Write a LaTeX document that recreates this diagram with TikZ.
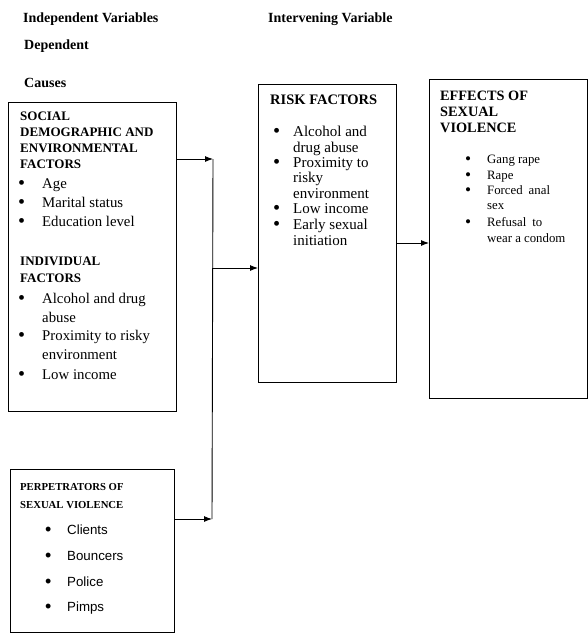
\documentclass[tikz,border=0pt]{standalone}
\usepackage{fontspec}
\setmainfont{Liberation Serif}
\newfontfamily\perpsans{Liberation Sans}
\usetikzlibrary{arrows.meta}
\newcommand\bigbul{\smash{\raisebox{-0.13em}{\scalebox{1.35}{\textbullet}}}}
\begin{document}
\begin{tikzpicture}[x=1pt,y=-1pt,
  box/.style={draw, line width=1pt, anchor=north west, inner sep=0pt},
  txt/.style={anchor=base west, inner sep=0pt},
  ttl/.style={txt, font=\fontsize{14}{16}\selectfont\bfseries},
  hsoc/.style={txt, font=\fontsize{13}{15}\selectfont\bfseries},
  isoc/.style={txt, font=\fontsize{14.8}{17}\selectfont},
  hrisk/.style={txt, font=\fontsize{14.5}{16}\selectfont\bfseries},
  irisk/.style={txt, font=\fontsize{15}{17}\selectfont},
  heff/.style={txt, font=\fontsize{14.3}{16}\selectfont\bfseries},
  ieff/.style={txt, font=\fontsize{12.8}{15}\selectfont},
  hperp/.style={txt, font=\fontsize{10.7}{12}\selectfont\bfseries},
  iperp/.style={txt, font=\fontsize{13.3}{15}\selectfont\perpsans},
  conn/.style={line width=0.9pt},
  arr/.style={conn, -{Latex[length=8pt,width=6pt]}}
]
\useasboundingbox (0,0) rectangle (587,634);

% titles
\node[ttl] (tind) at (23,23) {Independent Variables};
\node[ttl] (tint) at (268,23) {Intervening Variable};
\node[ttl] (tdep) at (24,50) {Dependent};
\node[ttl] (tcau) at (24,88) {Causes};

% boxes
\node[box, minimum width=168pt, minimum height=309pt] (soc) at (8,102) {};
\node[box, minimum width=138pt, minimum height=298pt] (risk) at (258,84) {};
\node[box, minimum width=157.5pt, minimum height=319pt] (eff) at (429,79) {};
\node[box, minimum width=164pt, minimum height=163pt] (perp) at (10,469) {};

% social box text
\node[hsoc] (s1) at (20,120) {SOCIAL};
\node[hsoc] (s2) at (20,136) {DEMOGRAPHIC AND};
\node[hsoc] (s3) at (20,152) {ENVIRONMENTAL};
\node[hsoc] (s4) at (20,168) {FACTORS};
\node[isoc] (s5) at (18,188) {\makebox[24pt][l]{\bigbul}Age};
\node[isoc] (s6) at (18,207) {\makebox[24pt][l]{\bigbul}Marital status};
\node[isoc] (s7) at (18,226) {\makebox[24pt][l]{\bigbul}Education level};
\node[hsoc] (s8) at (20,265) {INDIVIDUAL};
\node[hsoc] (s9) at (20,282) {FACTORS};
\node[isoc] (s10) at (18,303) {\makebox[24pt][l]{\bigbul}Alcohol and drug};
\node[isoc] (s11) at (42,322) {abuse};
\node[isoc] (s12) at (18,340) {\makebox[24pt][l]{\bigbul}Proximity to risky};
\node[isoc] (s13) at (42,359) {environment};
\node[isoc] (s14) at (18,379) {\makebox[24pt][l]{\bigbul}Low income};

% risk box text
\node[hrisk] (r1) at (270,104) {RISK FACTORS};
\node[irisk] (r2) at (273,136) {\makebox[20pt][l]{\bigbul}Alcohol and};
\node[irisk] (r3) at (293,152) {drug abuse};
\node[irisk] (r4) at (273,167) {\makebox[20pt][l]{\bigbul}Proximity to};
\node[irisk] (r5) at (293,182) {risky};
\node[irisk] (r6) at (293,198) {environment};
\node[irisk] (r7) at (273,213) {\makebox[20pt][l]{\bigbul}Low income};
\node[irisk] (r8) at (273,229) {\makebox[20pt][l]{\bigbul}Early sexual};
\node[irisk] (r9) at (293,245) {initiation};

% effects box text
\node[heff] (e1) at (440,100) {EFFECTS OF};
\node[heff] (e2) at (440,116) {SEXUAL};
\node[heff] (e3) at (440,132) {VIOLENCE};
\node[ieff] (e4) at (465,163) {\makebox[22pt][l]{\bigbul}Gang rape};
\node[ieff] (e5) at (465,179) {\makebox[22pt][l]{\bigbul}Rape};
\node[ieff] (e6) at (465,194) {\makebox[22pt][l]{\bigbul}Forced\hspace{6pt}anal};
\node[ieff] (e7) at (487,209) {sex};
\node[ieff] (e8) at (465,226) {\makebox[22pt][l]{\bigbul}Refusal\hspace{6pt}to};
\node[ieff] (e9) at (487,242) {wear a condom};

% perpetrators box text
\node[hperp] (p1) at (20,490) {PERPETRATORS OF};
\node[hperp] (p2) at (20,508) {SEXUAL VIOLENCE};
\node[iperp] (p3) at (45,534) {\makebox[22pt][l]{\bigbul}Clients};
\node[iperp] (p4) at (45,560) {\makebox[22pt][l]{\bigbul}Bouncers};
\node[iperp] (p5) at (45,586) {\makebox[22pt][l]{\bigbul}Police};
\node[iperp] (p6) at (45,611) {\makebox[22pt][l]{\bigbul}Pimps};

% connectors
\coordinate (j1) at (213,159);
\coordinate (j2) at (213,268);
\coordinate (j3) at (212,519);
\draw[arr] (soc.east |- j1) -- (j1);
\draw[conn] (j1) -- (j3);
\draw[arr] (perp.east |- j3) -- (j3);
\draw[arr] (j2) -- (risk.west |- j2);
\coordinate (j4) at (400,243);
\draw[arr] (risk.east |- j4) -- (eff.west |- j4);
\end{tikzpicture}
\end{document}
